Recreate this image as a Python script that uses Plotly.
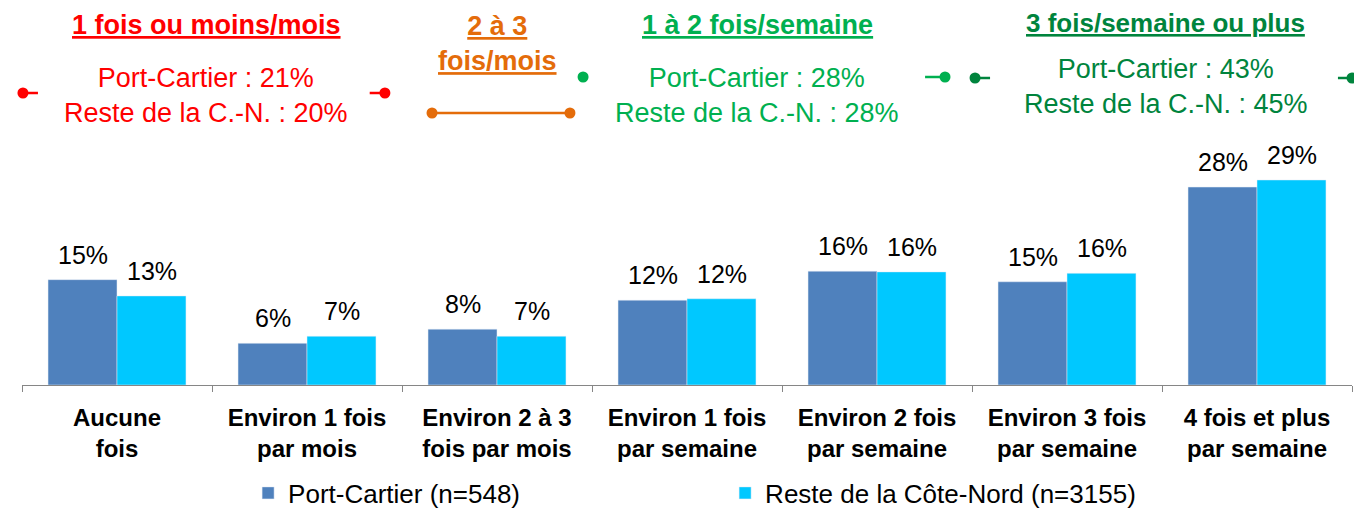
import plotly.graph_objects as go

# categories (x axis) and the two series, in %
categories = ["<b>Aucune<br>fois</b>", "<b>Environ 1 fois<br>par mois</b>", "<b>Environ 2 à 3<br>fois par mois</b>",
              "<b>Environ 1 fois<br>par semaine</b>", "<b>Environ 2 fois<br>par semaine</b>",
              "<b>Environ 3 fois<br>par semaine</b>", "<b>4 fois et plus<br>par semaine</b>"]
port_cartier = [14.9, 5.9, 7.9, 12.0, 16.1, 14.6, 28.0]
reste_cn = [12.6, 6.9, 6.9, 12.2, 16.0, 15.8, 29.0]
series_names = ["Port-Cartier (n=548)", "Reste de la Côte-Nord (n=3155)"]

# grouped summaries shown above the chart
group_titles = ["1 fois ou moins/mois", "2 à 3<br>fois/mois", "1 à 2 fois/semaine", "3 fois/semaine ou plus"]
group_pc = [21, None, 28, 43]
group_rest = [20, None, 28, 45]
group_colors = ["#FF0000", "#E46C0A", "#00B050", "#00843D"]

FONT = "Liberation Sans, Arial, sans-serif"
n_cat = len(categories)


def cat_x(pos):
    # category index -> paper x (categories span -0.5 .. n-0.5)
    return (pos + 0.5) / n_cat


def px_y(y_px):
    # screen pixel row -> paper y, plot area from 130 to 385 on screen
    return (385 - y_px) / 255


fig = go.Figure()
fig.add_trace(go.Bar(x=categories, y=port_cartier, name=series_names[0], marker_color="#4F81BD"))
fig.add_trace(go.Bar(x=categories, y=reste_cn, name=series_names[1], marker_color="#00C8FF"))

# value labels a bit higher above the bars than plotly's outside text
half_bar = 34.5
for vals, dx in ((port_cartier, -half_bar), (reste_cn, half_bar)):
    for c, v in zip(categories, vals):
        fig.add_annotation(x=c, y=v, xref="x", yref="y", xshift=dx, yshift=9, yanchor="bottom",
                           text="%.0f%%" % v, showarrow=False,
                           font=dict(size=25, color="black", family=FONT))

# headings + summaries
head_pos = [0.47, 2.0, 3.37, 5.52]
head_y = [25, 43, 25, 23]
head_size = [27, 27, 27, 26]
sub_y = [95, None, 95, 87]
for i in range(len(group_titles)):
    fig.add_annotation(x=cat_x(head_pos[i]), y=px_y(head_y[i]), xref="paper", yref="paper",
                       xanchor="center", yanchor="middle",
                       text="<b><u>" + group_titles[i] + "</u></b>", showarrow=False,
                       font=dict(size=head_size[i], color=group_colors[i], family=FONT))
    if group_pc[i] is not None:
        fig.add_annotation(x=cat_x(head_pos[i]), y=px_y(sub_y[i]), xref="paper", yref="paper",
                           xanchor="center", yanchor="middle",
                           text="Port-Cartier : %d%%<br>Reste de la C.-N. : %d%%" % (group_pc[i], group_rest[i]),
                           showarrow=False, font=dict(size=27, color=group_colors[i], family=FONT))

# bracket ends: (x dot, x line end or None, y px, color)
brackets = [(-0.495, -0.416, 93, 0), (1.41, 1.33, 93, 0),
            (1.658, 2.384, 113, 1), (2.384, None, 113, 1),
            (2.453, None, 77, 2), (4.358, 4.253, 77, 2),
            (4.516, 4.595, 78, 3), (6.5, 6.426, 78, 3)]
for xd, xl, yp, ci in brackets:
    c = group_colors[ci]
    if xl is not None:
        fig.add_shape(type="line", xref="paper", yref="paper", x0=cat_x(xd), x1=cat_x(xl),
                      y0=px_y(yp), y1=px_y(yp), line=dict(color=c, width=2.5))
    fig.add_shape(type="circle", xref="paper", yref="paper", xsizemode="pixel", ysizemode="pixel",
                  xanchor=cat_x(xd), yanchor=px_y(yp), x0=-5.5, x1=5.5, y0=-5.5, y1=5.5,
                  fillcolor=c, line=dict(color=c, width=0))

# page body has an 8px margin, so the figure is 8px smaller and margins shifted
fig.update_layout(
    width=1354, height=500,
    margin=dict(l=14, r=10, t=122, b=123, autoexpand=False),
    plot_bgcolor="white", paper_bgcolor="white",
    barmode="group", bargap=0.274, bargroupgap=0,
    font=dict(family=FONT, color="black"),
    showlegend=True,
    legend=dict(orientation="h", x=0.170, xanchor="left", y=px_y(493), yanchor="middle",
                font=dict(size=26, family=FONT), entrywidth=432, entrywidthmode="pixels",
                itemwidth=30, traceorder="normal"),
    xaxis=dict(showline=True, linecolor="#868686", linewidth=1, ticks="outside", ticklen=6,
               tickcolor="#868686", tickson="boundaries", showgrid=False, automargin=False,
               ticklabelstandoff=11,
               tickfont=dict(size=24, color="black", family=FONT)),
    yaxis=dict(visible=False, range=[0, 36.07], showgrid=False, zeroline=False),
)

fig.write_html("out.html")
